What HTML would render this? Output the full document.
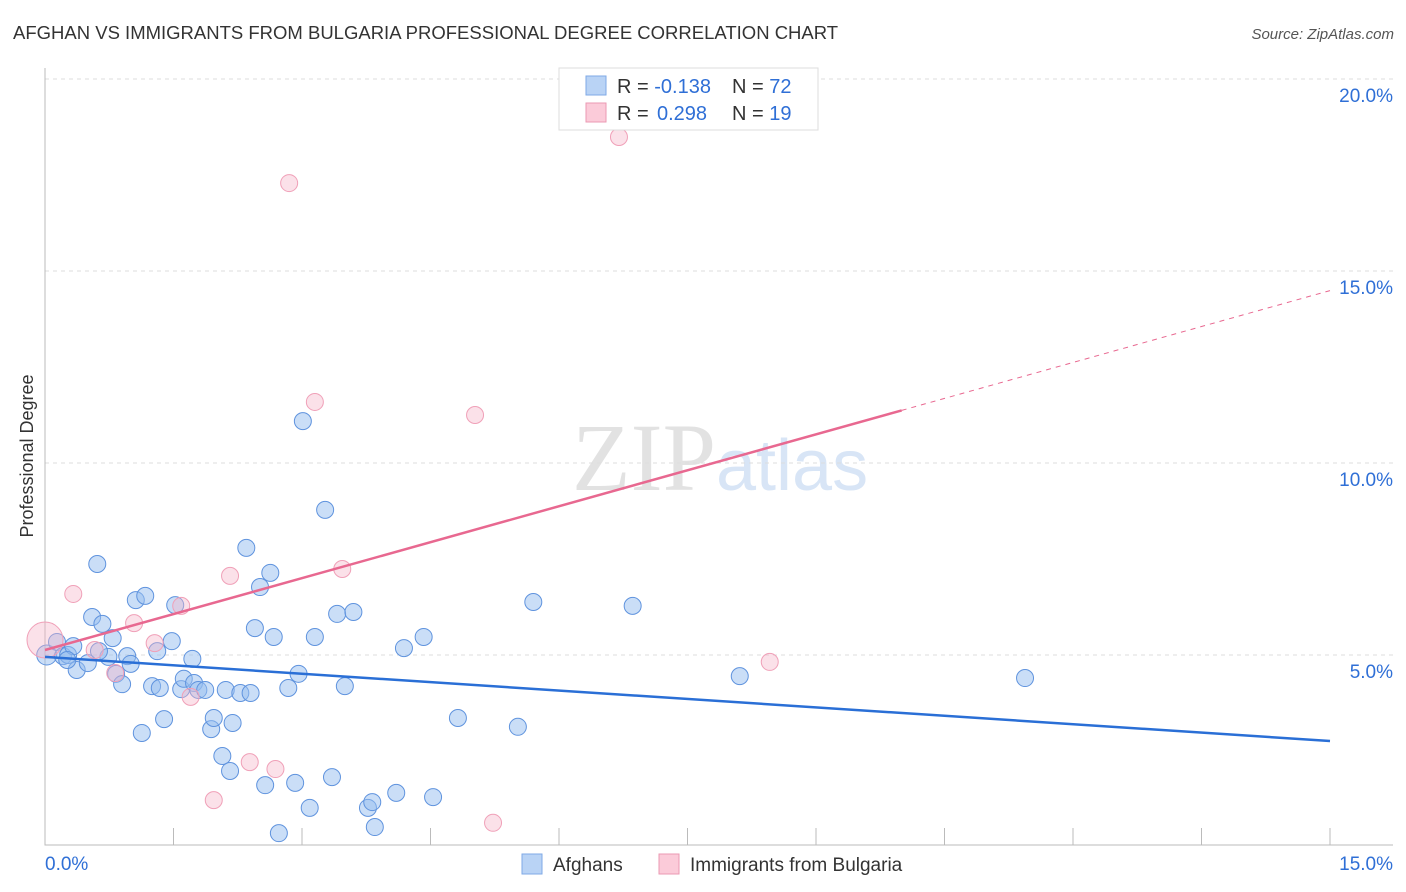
<!DOCTYPE html>
<html><head><meta charset="utf-8"><style>
body{margin:0;background:#fff;font-family:"Liberation Sans",sans-serif}
svg{display:block}
</style></head><body>
<svg id="c" width="1406" height="892">
<text x="13" y="39" font-size="18.5" fill="#333">AFGHAN VS IMMIGRANTS FROM BULGARIA PROFESSIONAL DEGREE CORRELATION CHART</text>
<text x="1394" y="39" font-size="15" fill="#555" text-anchor="end" font-style="italic">Source: ZipAtlas.com</text>
<text x="716" y="490" font-size="96" fill="#e2e2e2" text-anchor="end" font-family="Liberation Serif,serif">ZIP</text>
<text x="716" y="490" font-size="72" fill="#d8e5f6">atlas</text>
<text transform="translate(33,456) rotate(-90)" font-size="18" fill="#333" text-anchor="middle">Professional Degree</text>
<g id="grid"></g><g id="pts"></g><g id="lines"></g>
<g>
<rect x="559" y="68" width="259" height="62" fill="#fff" stroke="#ddd"/>
<rect x="586" y="76" width="20" height="19" fill="#b9d3f5" stroke="#7fa9e6"/>
<rect x="586" y="103" width="20" height="19" fill="#fbcbd9" stroke="#eb9ab3"/>
<text x="617" y="93" font-size="20" fill="#333">R = <tspan fill="#2f6fd6">-0.138</tspan><tspan x="732">N = </tspan><tspan fill="#2f6fd6">72</tspan></text>
<text x="617" y="120" font-size="20" fill="#333">R = <tspan x="657" fill="#2f6fd6">0.298</tspan><tspan x="732">N = </tspan><tspan fill="#2f6fd6"> 19</tspan></text>
</g>
<g>
<rect x="522" y="854" width="20" height="20" fill="#b9d3f5" stroke="#7fa9e6"/>
<text x="553" y="871" font-size="19" fill="#333">Afghans</text>
<rect x="659" y="854" width="20" height="20" fill="#fbcbd9" stroke="#eb9ab3"/>
<text x="690" y="871" font-size="19" fill="#333">Immigrants from Bulgaria</text>
</g>
<text x="45" y="870" font-size="19" fill="#2f6fd6">0.0%</text>
<text x="1393" y="870" font-size="19" fill="#2f6fd6" text-anchor="end">15.0%</text>
</svg>
<script>
const blueX=[0.02,0.14,0.21,0.27,0.33,0.37,0.50,0.61,0.55,0.67,0.74,0.79,0.83,0.90,0.96,1.00,1.06,1.17,1.13,1.25,1.31,1.34,1.39,1.48,1.52,1.59,1.62,1.72,1.74,1.79,1.87,1.94,1.97,2.07,2.11,2.16,2.19,2.28,2.35,2.40,2.45,2.51,2.57,2.63,2.67,2.73,2.84,2.92,2.96,3.01,3.09,3.15,3.27,3.35,3.41,3.50,3.60,3.77,3.82,3.85,4.10,4.19,4.42,4.53,4.82,5.52,5.70,6.86,8.11,11.44,0.26,0.63];
const blueY=[5.00,5.34,4.97,5.00,5.23,4.61,4.79,7.37,5.99,5.81,4.95,5.44,4.51,4.24,4.97,4.77,6.43,6.54,2.97,4.19,5.10,4.14,3.33,5.36,6.30,4.11,4.38,4.90,4.27,4.09,4.09,3.07,3.36,2.37,4.09,1.98,3.23,4.01,7.79,4.01,5.70,6.77,1.61,7.14,5.47,0.36,4.14,1.67,4.51,11.09,1.02,5.47,8.78,1.82,6.07,4.19,6.12,1.02,1.17,0.52,1.41,5.18,5.47,1.30,3.36,3.13,6.38,6.28,4.45,4.40,4.87,5.10];
const pinkX=[0.0,0.33,0.58,0.82,1.04,1.28,1.59,1.70,1.97,2.16,2.39,2.69,2.85,3.15,3.47,5.02,5.23,6.70,8.46];
const pinkY=[5.39,6.59,5.13,4.53,5.83,5.31,6.28,3.91,1.22,7.06,2.21,2.03,17.29,11.59,7.24,11.25,0.63,18.49,4.82];
const yTicks=[5,10,15,20];
const yTickLabels=["5.0%","10.0%","15.0%","20.0%"];
const xTicks=[0,1.5,3,4.5,6,7.5,9,10.5,12,13.5,15];
const blueFit=[4.95,2.76];
const pinkFit=[5.13,14.49];
const pinkSolidEnd=10.0;
const NS="http://www.w3.org/2000/svg";
const X=v=>45+v/15*1285, Y=v=>847-v/5*192;
function mk(parent,tag,attrs){const e=document.createElementNS(NS,tag);for(const k in attrs)e.setAttribute(k,attrs[k]);document.getElementById(parent).appendChild(e);return e;}
yTicks.forEach((t,i)=>{
 const l=mk('grid','line',{x1:45,x2:1393,y1:Y(t),y2:Y(t),stroke:'#ddd','stroke-dasharray':'4,4'});
 
 
 const tx=mk('grid','text',{x:1393,y:Y(t)+23,'font-size':19,fill:'#2f6fd6','text-anchor':'end'});
 tx.textContent=yTickLabels[i];
 
 
});
const ax=mk('grid','path',{d:'M45,68 V845 H1393',fill:'none',stroke:'#bbb'});


xTicks.forEach(t=>{
 const l=mk('grid','line',{x1:X(t),x2:X(t),y1:828,y2:845,stroke:'#bbb'});
 
 
});
blueX.forEach((x,i)=>{
 const c=mk('pts','circle',{cx:X(x),cy:Y(blueY[i]),r:i==0?10:8.5,fill:'rgba(150,190,240,0.5)',stroke:'#5f93de','stroke-width':1});
 
 
});
pinkX.forEach((x,i)=>{
 const c=mk('pts','circle',{cx:X(x),cy:Y(pinkY[i]),r:i==0?18:8.5,fill:'rgba(245,180,200,0.4)',stroke:'#f0a0b8','stroke-width':1});
 
 
});
const bl=mk('lines','line',{x1:X(0),y1:Y(blueFit[0]),x2:X(15),y2:Y(blueFit[1]),stroke:'#2a6fd6','stroke-width':2.5});


const pm=pinkFit[0]+(pinkFit[1]-pinkFit[0])*pinkSolidEnd/15;
const pl=mk('lines','line',{x1:X(0),y1:Y(pinkFit[0]),x2:X(pinkSolidEnd),y2:Y(pm),stroke:'#e86890','stroke-width':2.5});


const pd=mk('lines','line',{x1:X(pinkSolidEnd),y1:Y(pm),x2:X(15),y2:Y(pinkFit[1]),stroke:'#e86890','stroke-width':1,'stroke-dasharray':'5,5'});


</script>
</body></html>
